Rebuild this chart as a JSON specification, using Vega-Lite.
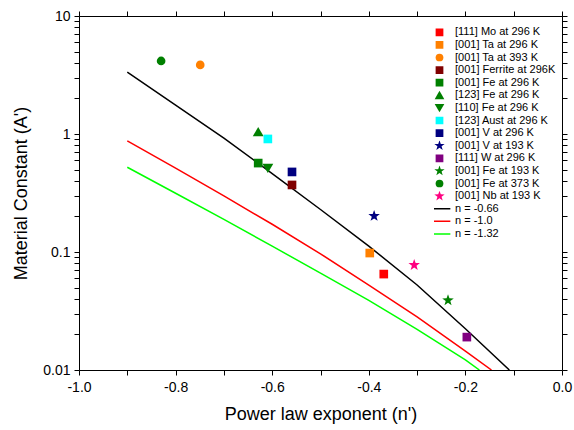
{
  "$schema": "https://vega.github.io/schema/vega-lite/v6.json",
  "autosize": "none",
  "padding": {"left": 79, "top": 16, "right": 12, "bottom": 60},
  "width": 483,
  "height": 354,
  "background": "white",
  "config": {
    "view": {"stroke": null},
    "font": "Liberation Sans",
    "axis": {
      "domainColor": "black", "domainWidth": 1, "tickColor": "black", "tickWidth": 1,
      "labelColor": "black", "titleColor": "black", "grid": false,
      "labelFont": "Liberation Sans", "titleFont": "Liberation Sans",
      "labelFontSize": 14, "titleFontSize": 18, "titleFontWeight": "normal",
      "labelOverlap": false, "labelFlush": false
    },
    "legend": {"labelFont": "Liberation Sans"}
  },
  "datasets": {
    "lines": [
      {"n": -0.9, "A": 3.35, "label": "n = -0.66"},
      {"n": -0.8, "A": 1.758, "label": "n = -0.66"},
      {"n": -0.7, "A": 0.9226, "label": "n = -0.66"},
      {"n": -0.6, "A": 0.4624, "label": "n = -0.66"},
      {"n": -0.5, "A": 0.2291, "label": "n = -0.66"},
      {"n": -0.4, "A": 0.1122, "label": "n = -0.66"},
      {"n": -0.3, "A": 0.0525, "label": "n = -0.66"},
      {"n": -0.2, "A": 0.02239, "label": "n = -0.66"},
      {"n": -0.109, "A": 0.01, "label": "n = -0.66"},
      {"n": -0.9, "A": 0.873, "label": "n = -1.0"},
      {"n": -0.8, "A": 0.513, "label": "n = -1.0"},
      {"n": -0.7, "A": 0.2985, "label": "n = -1.0"},
      {"n": -0.6, "A": 0.1718, "label": "n = -1.0"},
      {"n": -0.5, "A": 0.0966, "label": "n = -1.0"},
      {"n": -0.4, "A": 0.0525, "label": "n = -1.0"},
      {"n": -0.3, "A": 0.0282, "label": "n = -1.0"},
      {"n": -0.2, "A": 0.01445, "label": "n = -1.0"},
      {"n": -0.146, "A": 0.01, "label": "n = -1.0"},
      {"n": -0.9, "A": 0.5224, "label": "n = -1.32"},
      {"n": -0.8, "A": 0.3148, "label": "n = -1.32"},
      {"n": -0.7, "A": 0.1888, "label": "n = -1.32"},
      {"n": -0.6, "A": 0.1122, "label": "n = -1.32"},
      {"n": -0.5, "A": 0.0661, "label": "n = -1.32"},
      {"n": -0.4, "A": 0.0389, "label": "n = -1.32"},
      {"n": -0.3, "A": 0.02213, "label": "n = -1.32"},
      {"n": -0.2, "A": 0.01216, "label": "n = -1.32"},
      {"n": -0.171, "A": 0.01, "label": "n = -1.32"}
    ],
    "points": [
      {"n": -0.369, "A": 0.065, "label": "[111] Mo at 296 K"},
      {"n": -0.398, "A": 0.098, "label": "[001] Ta at 296 K"},
      {"n": -0.749, "A": 3.85, "label": "[001] Ta at 393 K"},
      {"n": -0.559, "A": 0.37, "label": "[001] Ferrite at 296K"},
      {"n": -0.629, "A": 0.567, "label": "[001] Fe at 296 K"},
      {"n": -0.629, "A": 1.04, "label": "[123] Fe at 296 K"},
      {"n": -0.609, "A": 0.515, "label": "[110] Fe at 296 K"},
      {"n": -0.609, "A": 0.908, "label": "[123] Aust at 296 K"},
      {"n": -0.559, "A": 0.477, "label": "[001] V at 296 K"},
      {"n": -0.389, "A": 0.202, "label": "[001] V at 193 K"},
      {"n": -0.197, "A": 0.019, "label": "[111] W at 296 K"},
      {"n": -0.236, "A": 0.039, "label": "[001] Fe at 193 K"},
      {"n": -0.83, "A": 4.16, "label": "[001] Fe at 373 K"},
      {"n": -0.306, "A": 0.0776, "label": "[001] Nb at 193 K"}
    ]
  },
  "resolve": {"axis": {"x": "independent", "y": "independent"}},
  "layer": [
    {
      "data": {"name": "lines"},
      "mark": {"type": "line", "strokeWidth": 1.5, "clip": true},
      "encoding": {
        "x": {
          "field": "n", "type": "quantitative",
          "scale": {"domain": [-1, 0], "nice": false, "zero": false},
          "axis": {
            "orient": "bottom",
            "values": [-1, -0.9, -0.8, -0.7, -0.6, -0.5, -0.4, -0.3, -0.2, -0.1, 0],
            "labelExpr": "abs(datum.value*5 - round(datum.value*5)) < 1e-6 ? replace(format(datum.value, '.1f'), '\u2212', '-') : ''",
            "tickSize": 5, "labelPadding": 5,
            "title": "Power law exponent (n')", "titlePadding": 11,
            "encode": {"ticks": {"update": {"y2": {"signal": "abs(datum.value*5 - round(datum.value*5)) < 1e-6 ? 6 : 3"}}}}
          }
        },
        "y": {
          "field": "A", "type": "quantitative",
          "scale": {"type": "log", "domain": [0.01, 10], "nice": false},
          "axis": {
            "orient": "left",
            "values": [0.01, 0.02, 0.03, 0.04, 0.05, 0.06, 0.07, 0.08, 0.09, 0.1, 0.2, 0.3, 0.4, 0.5, 0.6, 0.7, 0.8, 0.9, 1, 2, 3, 4, 5, 6, 7, 8, 9, 10],
            "labelExpr": "datum.value == 10 ? '10' : datum.value == 1 ? '1' : datum.value == 0.1 ? '0.1' : datum.value == 0.01 ? '0.01' : ''",
            "tickSize": 5, "labelPadding": 4,
            "title": "Material Constant (A')", "titlePadding": 12,
            "encode": {"ticks": {"update": {"x2": {"signal": "abs(log(datum.value)/LN10 - round(log(datum.value)/LN10)) < 1e-6 ? -6 : -3"}}}}
          }
        },
        "color": {
          "field": "label", "type": "nominal",
          "scale": {
            "domain": ["[111] Mo at 296 K", "[001] Ta at 296 K", "[001] Ta at 393 K", "[001] Ferrite at 296K", "[001] Fe at 296 K", "[123] Fe at 296 K", "[110] Fe at 296 K", "[123] Aust at 296 K", "[001] V at 296 K", "[001] V at 193 K", "[111] W at 296 K", "[001] Fe at 193 K", "[001] Fe at 373 K", "[001] Nb at 193 K", "n = -0.66", "n = -1.0", "n = -1.32"],
            "range": ["#ff0000", "#ff8000", "#ff8000", "#800000", "#008000", "#008000", "#008000", "#00ffff", "#000080", "#000080", "#800080", "#008000", "#008000", "#ff0080", "#000000", "#ff0000", "#00ff00"]
          },
          "legend": {
            "orient": "none", "legendX": 355, "legendY": 11, "title": null, "padding": 0,
            "labelFontSize": 11, "labelColor": "black", "labelOffset": 10,
            "symbolSize": 60, "rowPadding": 0.6, "clipHeight": 10.6, "symbolStrokeWidth": 1.5,
            "encode": {"symbols": {"update": {
              "stroke": {"scale": "color", "field": "value"},
              "strokeOpacity": [{"test": "indexof(datum.value, 'n =') === 0", "value": 1}, {"value": 0}],
              "opacity": {"value": 1}
            }}}
          }
        }
      }
    },
    {
      "data": {"name": "points"},
      "mark": {"type": "point", "filled": true, "opacity": 1, "size": 75, "strokeWidth": 0},
      "encoding": {
        "x": {
          "field": "n", "type": "quantitative",
          "axis": {
            "orient": "top", "labels": false, "title": null,
            "values": [-1, -0.9, -0.8, -0.7, -0.6, -0.5, -0.4, -0.3, -0.2, -0.1, 0],
            "tickSize": 5,
            "encode": {"ticks": {"update": {"y2": {"signal": "abs(datum.value*5 - round(datum.value*5)) < 1e-6 ? 6 : 3"}}}}
          }
        },
        "y": {
          "field": "A", "type": "quantitative",
          "axis": {
            "orient": "right", "labels": false, "title": null,
            "values": [0.01, 0.02, 0.03, 0.04, 0.05, 0.06, 0.07, 0.08, 0.09, 0.1, 0.2, 0.3, 0.4, 0.5, 0.6, 0.7, 0.8, 0.9, 1, 2, 3, 4, 5, 6, 7, 8, 9, 10],
            "tickSize": 5,
            "encode": {"ticks": {"update": {"x2": {"signal": "abs(log(datum.value)/LN10 - round(log(datum.value)/LN10)) < 1e-6 ? -6 : -3"}}}}
          }
        },
        "color": {"field": "label", "type": "nominal"},
        "shape": {
          "field": "label", "type": "nominal",
          "scale": {
            "domain": ["[111] Mo at 296 K", "[001] Ta at 296 K", "[001] Ta at 393 K", "[001] Ferrite at 296K", "[001] Fe at 296 K", "[123] Fe at 296 K", "[110] Fe at 296 K", "[123] Aust at 296 K", "[001] V at 296 K", "[001] V at 193 K", "[111] W at 296 K", "[001] Fe at 193 K", "[001] Fe at 373 K", "[001] Nb at 193 K", "n = -0.66", "n = -1.0", "n = -1.32"],
            "range": ["square", "square", "circle", "square", "square", "M0,-1.15L1.25,1L-1.25,1Z", "M0,1.15L1.25,-1L-1.25,-1Z", "square", "square", "M0,-1.4L0.329,-0.453L1.331,-0.433L0.532,0.174L0.823,1.133L0,0.56L-0.823,1.133L-0.532,0.174L-1.331,-0.433L-0.329,-0.453Z", "square", "M0,-1.4L0.329,-0.453L1.331,-0.433L0.532,0.174L0.823,1.133L0,0.56L-0.823,1.133L-0.532,0.174L-1.331,-0.433L-0.329,-0.453Z", "circle", "M0,-1.4L0.329,-0.453L1.331,-0.433L0.532,0.174L0.823,1.133L0,0.56L-0.823,1.133L-0.532,0.174L-1.331,-0.433L-0.329,-0.453Z", "M-2.8,0H2.8", "M-2.8,0H2.8", "M-2.8,0H2.8"]
          },
          "legend": {
            "orient": "none", "legendX": 355, "legendY": 11, "title": null, "padding": 0,
            "labelFontSize": 11, "labelColor": "black", "labelOffset": 10,
            "symbolSize": 60, "rowPadding": 0.6, "clipHeight": 10.6, "symbolStrokeWidth": 1.5
          }
        }
      }
    }
  ]
}
